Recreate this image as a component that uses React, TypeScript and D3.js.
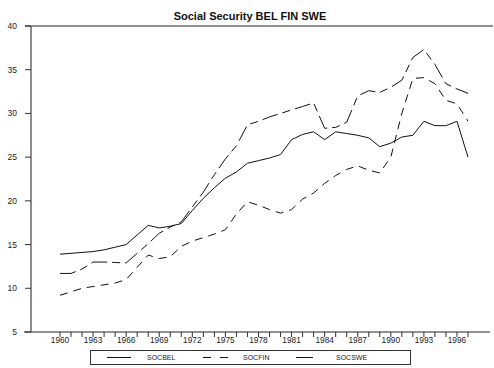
import React from "react";
import * as d3 from "d3";

// Social security spending, % of GDP, 1960-1997
const years: number[] = d3.range(1960, 1998);
const socBel: number[] = [
  13.9, 14.0, 14.1, 14.2, 14.4, 14.7, 15.0, 16.1, 17.2, 16.9,
  17.1, 17.4, 18.9, 20.3, 21.5, 22.6, 23.3, 24.3, 24.6, 24.9,
  25.3, 27.0, 27.6, 27.9, 27.0, 27.9, 27.7, 27.5, 27.2, 26.2,
  26.6, 27.3, 27.5, 29.1, 28.6, 28.6, 29.1, 25.0,
];
const socFin: number[] = [
  9.2, 9.6, 10.0, 10.2, 10.4, 10.6, 11.0, 12.4, 13.8, 13.4,
  13.6, 14.8, 15.4, 15.8, 16.2, 16.7, 18.5, 19.9, 19.5, 19.0,
  18.6, 19.0, 20.2, 20.9, 22.0, 22.9, 23.6, 24.0, 23.5, 23.2,
  25.0, 30.0, 34.0, 34.1, 33.4, 31.5, 31.1, 29.1,
];
const socSwe: number[] = [
  11.7, 11.7, 12.2, 13.0, 13.0, 12.95, 12.9, 14.0, 15.1, 16.3,
  17.0, 17.6, 19.3, 21.0, 23.0, 24.8, 26.3, 28.7, 29.1, 29.6,
  30.0, 30.4, 30.8, 31.2, 28.3, 28.4, 29.0, 32.0, 32.6, 32.4,
  33.0, 33.8, 36.4, 37.3, 35.6, 33.4, 32.8, 32.3,
];
const yTicks: number[] = [5, 10, 15, 20, 25, 30, 35, 40];
const xLabelYears: number[] = d3.range(1960, 1997, 3);
const seriesNames: string[] = ["SOCBEL", "SOCFIN", "SOCSWE"];

const W = 494;
const H = 368;
const font = "Liberation Sans, Arial, Helvetica, sans-serif";

export default function App() {
  const x = d3.scaleLinear().domain([1960, 1997]).range([60, 468]);
  const y = d3.scaleLinear().domain([5, 40]).range([332, 26]);
  const line = d3
    .line<number>()
    .x((_, i) => x(years[i]))
    .y((d) => y(d));

  const series = [
    { name: seriesNames[0], values: socBel, dash: undefined as string | undefined },
    { name: seriesNames[1], values: socFin, dash: "8,6" },
    { name: seriesNames[2], values: socSwe, dash: "16,5,8,5" },
  ];

  const legendY = 357.5;
  const legend = [
    { x1: 107, x2: 131, tx: 147, dash: undefined as string | undefined },
    { x1: 203, x2: 228, tx: 243, dash: "8,9" },
    { x1: 296, x2: 313, tx: 336, dash: undefined as string | undefined },
  ];

  return (
    <svg
      width={W}
      height={H}
      style={{ position: "absolute", left: 0, top: 0, background: "#fff" }}
      fontFamily={font}
    >
      <rect x={0} y={0} width={W} height={H} fill="#fff" />
      <text
        x={250}
        y={20}
        textAnchor="middle"
        fontSize={11}
        fontWeight="bold"
        fill="#111"
      >
        Social Security BEL FIN SWE
      </text>

      {/* frame top and x axis */}
      <line x1={25} x2={493} y1={y(40)} y2={y(40)} stroke="#222" strokeWidth={1} />
      <line x1={24} x2={490} y1={y(5)} y2={y(5)} stroke="#222" strokeWidth={1} />
      <line x1={31} x2={31} y1={y(40)} y2={y(5)} stroke="#666" strokeWidth={1.5} />

      {/* y ticks */}
      {yTicks.map((t) => (
        <g key={t}>
          <line x1={25} x2={31} y1={y(t)} y2={y(t)} stroke="#333" strokeWidth={1} />
          <text
            x={17}
            y={y(t)}
            dy="0.35em"
            textAnchor="end"
            fontSize={8.5}
            fill="#222"
          >
            {t}
          </text>
        </g>
      ))}

      {/* x ticks */}
      {years.map((yr) => (
        <line
          key={yr}
          x1={x(yr)}
          x2={x(yr)}
          y1={y(5)}
          y2={y(5) + 5}
          stroke="#333"
          strokeWidth={1}
        />
      ))}
      {xLabelYears.map((yr) => (
        <text
          key={yr}
          x={x(yr)}
          y={343}
          textAnchor="middle"
          fontSize={8.3}
          fill="#222"
        >
          {yr}
        </text>
      ))}

      {/* data lines */}
      {series.map((s) => (
        <path
          key={s.name}
          d={line(s.values) ?? ""}
          fill="none"
          stroke="#111"
          strokeWidth={1}
          strokeDasharray={s.dash}
        />
      ))}

      {/* legend */}
      <rect x={90.5} y={350.5} width={320} height={14} fill="none" stroke="#333" strokeWidth={1} />
      {legend.map((l, i) => (
        <g key={seriesNames[i]}>
          <line
            x1={l.x1}
            x2={l.x2}
            y1={legendY}
            y2={legendY}
            stroke="#111"
            strokeWidth={1}
            strokeDasharray={l.dash}
          />
          <text x={l.tx} y={legendY} dy="0.35em" fontSize={7} fill="#222">
            {seriesNames[i]}
          </text>
        </g>
      ))}
    </svg>
  );
}
